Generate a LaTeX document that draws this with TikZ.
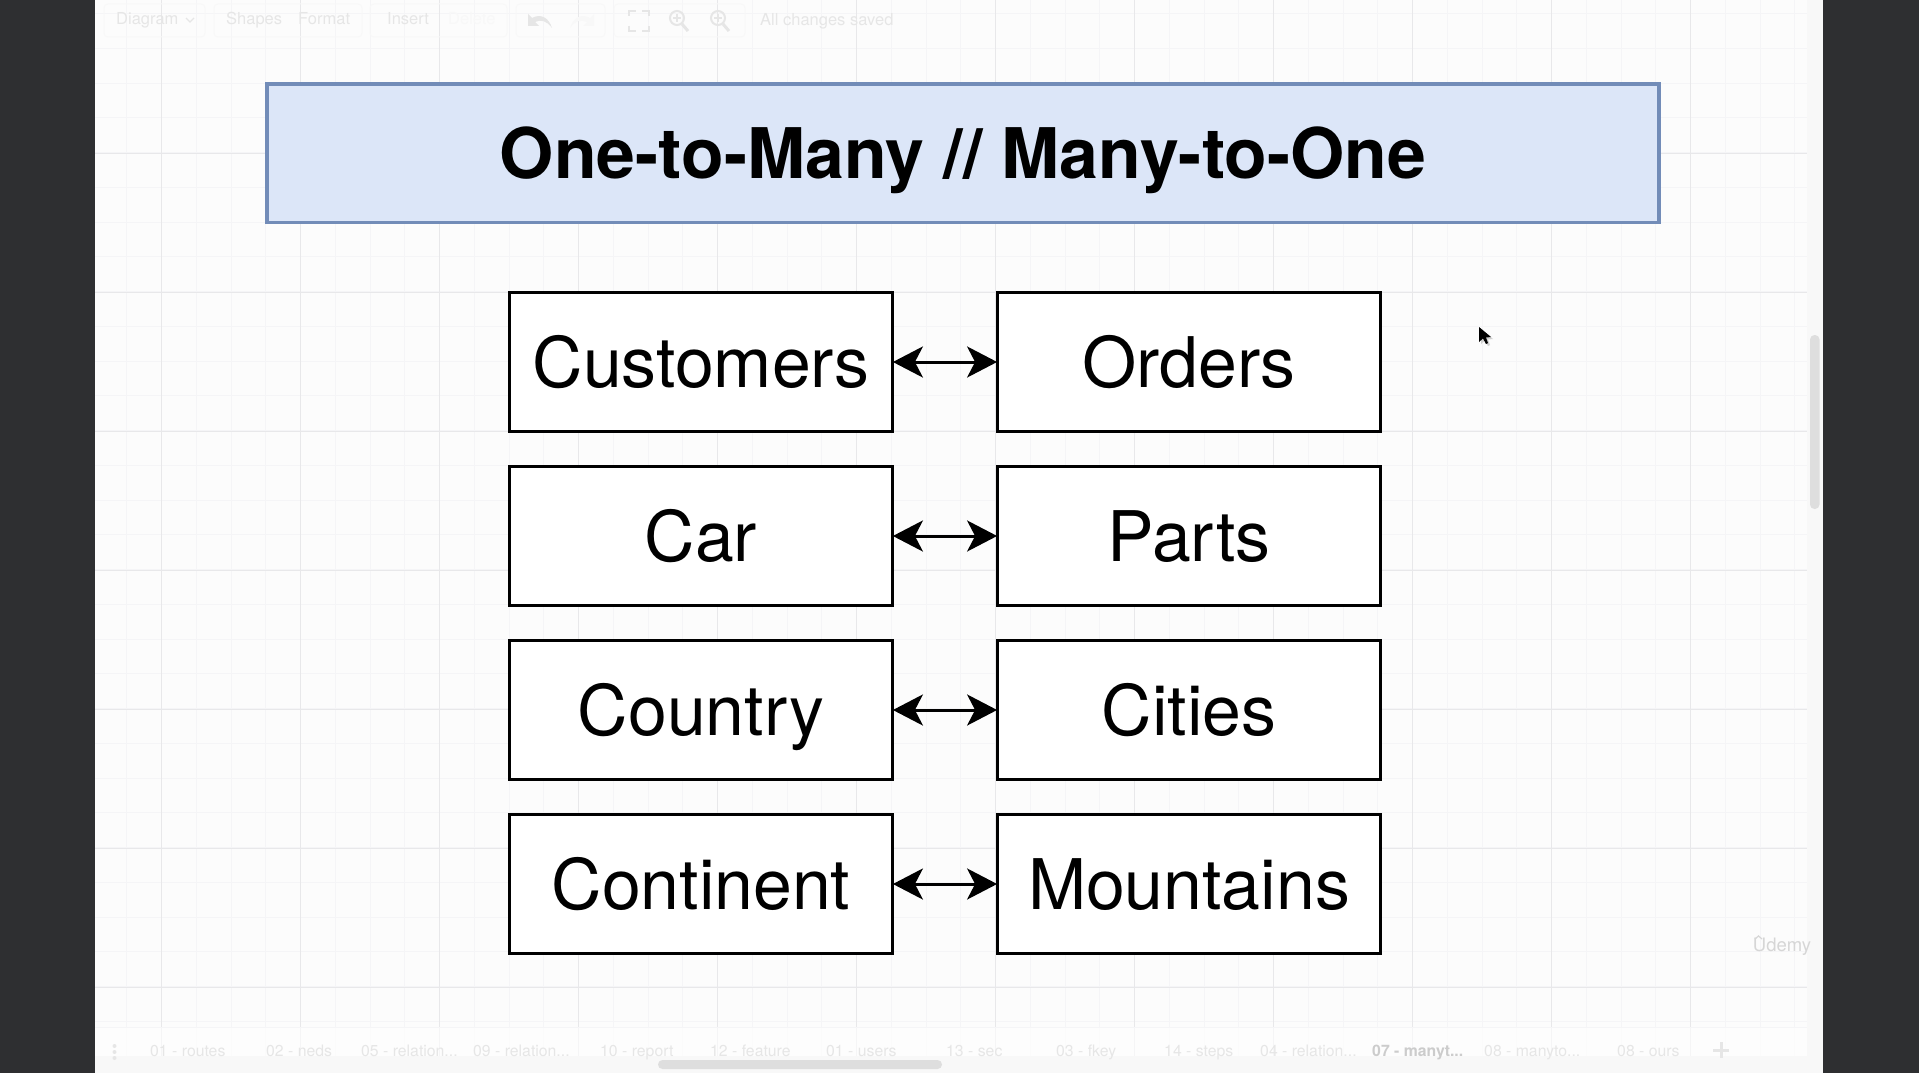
\documentclass[tikz,border=0pt]{standalone}
\usepackage{fontspec}
\setmainfont{TeX Gyre Heros}
\usetikzlibrary{arrows.meta}
\definecolor{darkbar}{HTML}{2E2F31}
\definecolor{panel}{HTML}{F8F8F8}
\definecolor{gridminor}{HTML}{F5F5F7}
\definecolor{gridmajor}{HTML}{E8E8EA}
\definecolor{faint}{HTML}{E6E6E6}
\definecolor{titlefill}{HTML}{DCE6F8}
\definecolor{titleline}{HTML}{728CB8}
\definecolor{scrollbar}{HTML}{DEDEDE}
\tikzset{
  entity/.style={draw=black,fill=white,line width=3.3pt,minimum width=382.5pt,minimum height=138.5pt,inner sep=0pt,text height=50pt,text depth=0pt,font=\fontsize{69.8}{69.8}\selectfont,text=black},
  headline/.style={draw=titleline,fill=titlefill,line width=3.5pt,minimum width=1392pt,minimum height=138.5pt,inner sep=0pt,text height=50pt,text depth=0pt,font=\fontsize{69.8}{69.8}\selectfont\bfseries,text=black},
  link/.style={draw=black,line width=3pt,{Stealth[length=30pt,width=31pt,inset=8pt]}-{Stealth[length=30pt,width=31pt,inset=8pt]},shorten <=-1pt,shorten >=-1pt},
  uitext/.style={anchor=west,inner sep=0pt,text height=12pt,text depth=3pt,text=faint,font=\fontsize{16.5}{16.5}\selectfont},
  tabtext/.style={uitext,font=\fontsize{15.8}{15.8}\selectfont},
  uibox/.style={draw=panel,line width=1pt,rounded corners=4pt},
  uiicon/.style={draw=faint,line width=2pt},
}
\begin{document}
\begin{tikzpicture}[x=1pt,y=-1pt]
\useasboundingbox (0,0) rectangle (1919,1073);
% page
\fill[white!99!black] (0,0) rectangle (1919,1073);
% grid
\foreach \i in {3,...,51}{\draw[gridminor,line width=1pt] ({22.7+34.75*\i},0) -- ({22.7+34.75*\i},1056);}
\foreach \i in {0,...,29}{\draw[gridminor,line width=1pt] (95,{13.7+34.75*\i}) -- (1807,{13.7+34.75*\i});}
\foreach \i in {1,...,12}{\draw[gridmajor,line width=1pt] ({22.7+139*\i},0) -- ({22.7+139*\i},1056);}
\foreach \i in {0,...,6}{\draw[gridmajor,line width=1pt] (95,{153+139*\i}) -- (1807,{153+139*\i});}
\draw[gridminor,line width=1pt] (95,1027) -- (1807,1027);
% tab bar and panels
\fill[white,opacity=.6] (95,1028) rectangle (1807,1056);
\fill[panel] (95,1056) rectangle (1823,1073);
\fill[panel] (1807,0) rectangle (1823,1073);
\fill[darkbar] (0,0) rectangle (95,1073);
\fill[darkbar] (1823,0) rectangle (1919,1073);
% scrollbars
\fill[scrollbar,rounded corners=4.5pt] (658,1060) rectangle (942,1069);
\fill[scrollbar,rounded corners=4.5pt] (1810,335) rectangle (1819.5,509);
% toolbar
\draw[uibox] (104,4) rectangle (205,37);
\draw[uibox] (214,4) rectangle (362,37);
\draw[uibox] (370,4) rectangle (507,37);
\draw[uibox] (516,4) rectangle (605,37);
\draw[uibox] (614,4) rectangle (745,37);
\node[uitext] (tbdiagram) at (116,20) {Diagram};
\node[uitext] (tbshapes) at (226,20) {Shapes};
\node[uitext] (tbformat) at (298,20) {Format};
\node[uitext] (tbinsert) at (387,20) {Insert};
\node[uitext,text=panel] (tbdelete) at (448,20) {Delete};
\node[uitext] (tbsaved) at (760,21) {All changes saved};
\draw[uiicon,line width=1.2pt] (186,18) -- (190,22) -- (194,18);
% undo / redo
\fill[faint] (528,14) -- (528,26) -- (539,26) -- (535,22) .. controls (541,19) and (547,21) .. (552,28) .. controls (549,18) and (541,13) .. (532,18) -- cycle;
\fill[panel] (594,14) -- (594,26) -- (583,26) -- (587,22) .. controls (581,19) and (575,21) .. (570,28) .. controls (573,18) and (581,13) .. (590,18) -- cycle;
% fit
\draw[uiicon] (629,16) -- (629,11) -- (636,11);
\draw[uiicon] (642,11) -- (649,11) -- (649,16);
\draw[uiicon] (629,26) -- (629,31) -- (636,31);
\draw[uiicon] (642,31) -- (649,31) -- (649,26);
% zoom in / out
\foreach \zx in {677,718}{
  \draw[uiicon] (\zx,18) circle[radius=7pt];
  \draw[uiicon,line width=3pt] (\zx+5,24) -- (\zx+11,31);
  \draw[uiicon,line width=1.2pt] (\zx-4,18) -- (\zx+4,18);
  \draw[uiicon,line width=1.2pt] (\zx,14) -- (\zx,22);
}
% tabs
\foreach \dy in {1046,1052,1058}{\fill[faint] (114.5,\dy) circle[radius=2pt];}
\node[tabtext] (tab1) at (150,1052) {01 - routes};
\node[tabtext] (tab2) at (266,1052) {02 - neds};
\node[tabtext] (tab3) at (361,1052) {05 - relation...};
\node[tabtext] (tab4) at (473,1052) {09 - relation...};
\node[tabtext] (tab5) at (600,1052) {10 - report};
\node[tabtext] (tab6) at (710,1052) {12 - feature};
\node[tabtext] (tab7) at (826,1052) {01 - users};
\node[tabtext] (tab8) at (946,1052) {13 - sec};
\node[tabtext] (tab9) at (1056,1052) {03 - fkey};
\node[tabtext] (tab10) at (1164,1052) {14 - steps};
\node[tabtext] (tab11) at (1260,1052) {04 - relation...};
\node[tabtext,text=black!20,font=\fontsize{15.8}{15.8}\selectfont\bfseries] (tab12) at (1372,1052) {07 - manyt...};
\node[tabtext] (tab13) at (1484,1052) {08 - manyto...};
\node[tabtext] (tab14) at (1617,1052) {08 - ours};
\draw[faint,line width=3pt] (1713,1050) -- (1729,1050);
\draw[faint,line width=3pt] (1721,1042) -- (1721,1058);
% title
\node[headline] (title) at (963,153) {One-to-Many // Many-to-One};
% entity boxes
\node[entity] (customers) at (701,362) {Customers};
\node[entity] (orders) at (1189,362) {Orders};
\node[entity] (car) at (701,536) {Car};
\node[entity] (parts) at (1189,536) {Parts};
\node[entity] (country) at (701,710) {Country};
\node[entity] (cities) at (1189,710) {Cities};
\node[entity] (continent) at (701,884) {Continent};
\node[entity] (mountains) at (1189,884) {Mountains};
% connectors
\draw[link] (customers.east) -- (orders.west);
\draw[link] (car.east) -- (parts.west);
\draw[link] (country.east) -- (cities.west);
\draw[link] (continent.east) -- (mountains.west);
% cursor
\fill[black!18] (1481,329) -- (1481,344) -- (1485,340.5) -- (1488,346) -- (1490,345) -- (1488,339.5) -- (1493,339) -- cycle;
\fill[black] (1479,327) -- (1479,342) -- (1483,338.5) -- (1486,344) -- (1488,343) -- (1486,337.5) -- (1491,337) -- cycle;
% watermark
\node[anchor=center,inner sep=0pt,text=black!16,font=\fontsize{18.5}{18.5}\selectfont] (udemy) at (1782,947) {Udemy};
\draw[black!16,line width=1.2pt] (1755,939) -- (1758.5,936) -- (1762,939);
\end{tikzpicture}
\end{document}
